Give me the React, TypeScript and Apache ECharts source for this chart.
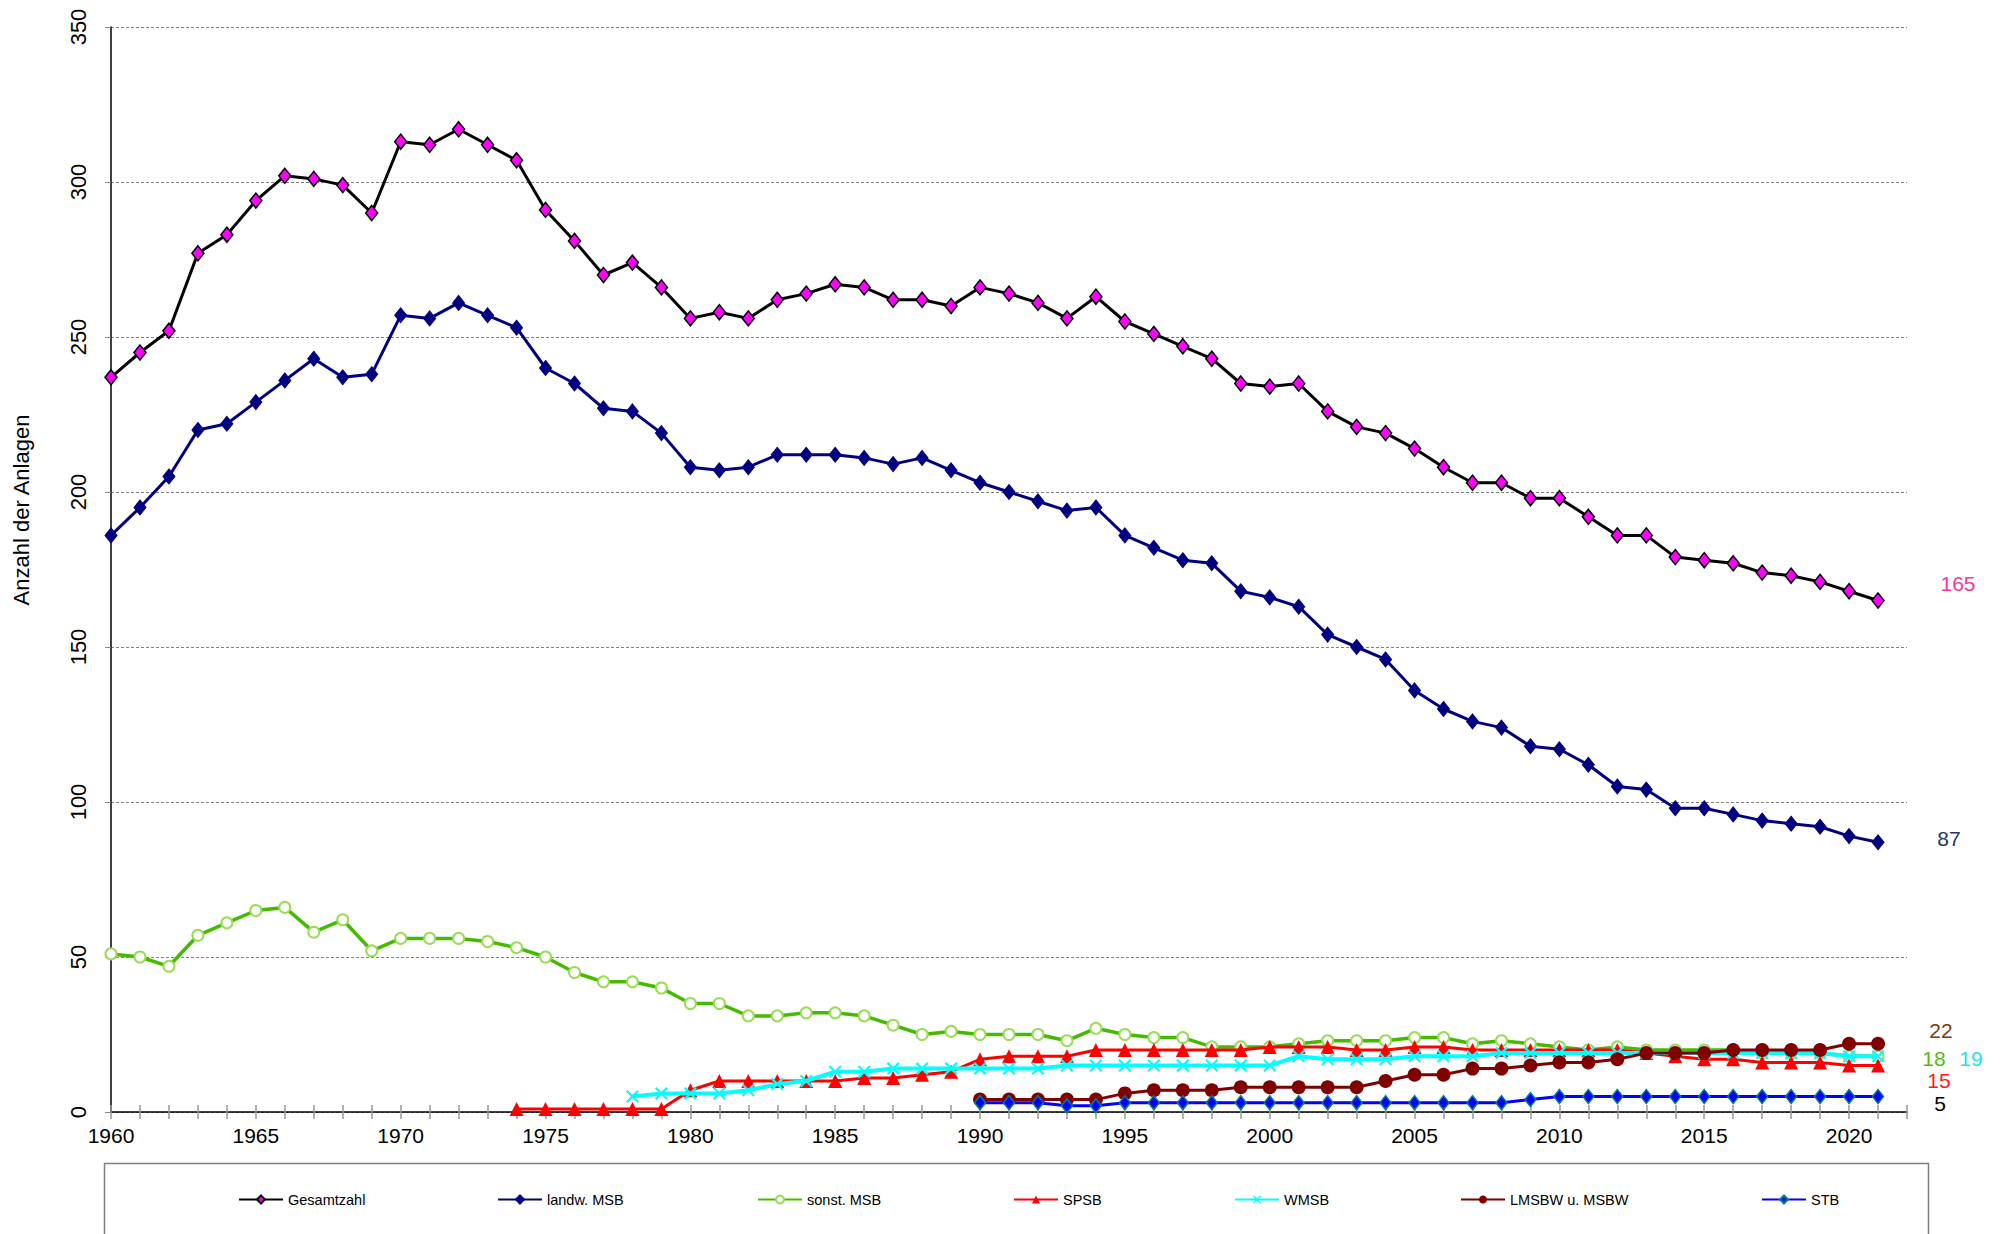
import React, { useEffect, useRef } from "react";
import * as echarts from "echarts";

const FIRST_YEAR = 1960;
const LAST_YEAR = 2022;
const years: string[] = [];
for (let y = FIRST_YEAR; y <= LAST_YEAR; y++) years.push(String(y));

const yTicks = { min: 0, max: 350, interval: 50 };

// Gesamtzahl 1960–2021
const gesamtStart = 1960;
const gesamt = [
  237, 245, 252, 277, 283, 294, 302, 301, 299, 290,
  313, 312, 317, 312, 307, 291, 281, 270, 274, 266,
  256, 258, 256, 262, 264, 267, 266, 262, 262, 260,
  266, 264, 261, 256, 263, 255, 251, 247, 243, 235,
  234, 235, 226, 221, 219, 214, 208, 203, 203, 198,
  198, 192, 186, 186, 179, 178, 177, 174, 173, 171,
  168, 165,
];
const landwStart = 1960;
const landw = [
  186, 195, 205, 220, 222, 229, 236, 243, 237, 238,
  257, 256, 261, 257, 253, 240, 235, 227, 226, 219,
  208, 207, 208, 212, 212, 212, 211, 209, 211, 207,
  203, 200, 197, 194, 195, 186, 182, 178, 177, 168,
  166, 163, 154, 150, 146, 136, 130, 126, 124, 118,
  117, 112, 105, 104, 98, 98, 96, 94, 93, 92,
  89, 87,
];
const sonstStart = 1960;
const sonst = [
  51, 50, 47, 57, 61, 65, 66, 58, 62, 52,
  56, 56, 56, 55, 53, 50, 45, 42, 42, 40,
  35, 35, 31, 31, 32, 32, 31, 28, 25, 26,
  25, 25, 25, 23, 27, 25, 24, 24, 21, 21,
  21, 22, 23, 23, 23, 24, 24, 22, 23, 22,
  21, 20, 21, 20, 20, 20, 20, 19, 19, 19,
  18, 18,
];
const spsbStart = 1974;
const spsb = [
  1, 1, 1, 1, 1, 1,
  7, 10, 10, 10, 10, 10, 11, 11, 12, 13,
  17, 18, 18, 18, 20, 20, 20, 20, 20, 20,
  21, 21, 21, 20, 20, 21, 21, 20, 20, 20,
  20, 20, 20, 19, 18, 17, 17, 16, 16, 16,
  15, 15,
];
const wmsbStart = 1978;
const wmsb = [
  5, 6,
  6, 6, 7, 9, 10, 13, 13, 14, 14, 14,
  14, 14, 14, 15, 15, 15, 15, 15, 15, 15,
  15, 18, 17, 17, 17, 18, 18, 18, 19, 19,
  19, 19, 19, 19, 19, 19, 19, 19, 19, 19,
  18, 18,
];
const lmsbwStart = 1990;
const lmsbw = [
  4, 4, 4, 4, 4, 6, 7, 7, 7, 8,
  8, 8, 8, 8, 10, 12, 12, 14, 14, 15,
  16, 16, 17, 19, 19, 19, 20, 20, 20, 20,
  22, 22,
];
const stbStart = 1990;
const stb = [
  3, 3, 3, 2, 2, 3, 3, 3, 3, 3,
  3, 3, 3, 3, 3, 3, 3, 3, 3, 4,
  5, 5, 5, 5, 5, 5, 5, 5, 5, 5,
  5, 5,
];

const seriesNames = [
  "Gesamtzahl",
  "landw. MSB",
  "sonst. MSB",
  "SPSB",
  "WMSB",
  "LMSBW u. MSBW",
  "STB",
];

const endLabels = [
  { text: "165", color: "#FF3399" },
  { text: "87", color: "#1F3864" },
  { text: "22", color: "#7A3A10" },
  { text: "18", color: "#55BB11" },
  { text: "19", color: "#22E5E5" },
  { text: "15", color: "#FF1A1A" },
  { text: "5", color: "#000000" },
];

function pad(start: number, values: number[]): (number | null)[] {
  return years.map((y) => {
    const i = Number(y) - start;
    return i >= 0 && i < values.length ? values[i] : null;
  });
}

const FONT = "'Liberation Sans', Arial, sans-serif";
const X_SYMBOL =
  "path://M0,1.2 L1.2,0 L5,3.8 L8.8,0 L10,1.2 L6.2,5 L10,8.8 L8.8,10 L5,6.2 L1.2,10 L0,8.8 L3.8,5 Z";

export default function App() {
  const ref = useRef<HTMLDivElement>(null);

  useEffect(() => {
    document.body.style.margin = "0";
    if (!ref.current) return;
    const chart = echarts.init(ref.current, undefined, { renderer: "svg" });

    const mk = (
      name: string,
      data: (number | null)[],
      lineColor: string,
      width: number,
      symbol: string,
      symbolSize: number | number[],
      itemStyle: any,
      z: number
    ) => ({
      name,
      type: "line",
      data,
      z,
      symbol,
      symbolSize,
      showAllSymbol: true,
      connectNulls: false,
      lineStyle: { color: lineColor, width },
      itemStyle: { opacity: 1, ...itemStyle },
      emphasis: { disabled: true },
    });

    const series = [
      mk(seriesNames[0], pad(gesamtStart, gesamt), "#000000", 3, "diamond", [12, 15],
        { color: "#FF00FF", borderColor: "#000000", borderWidth: 1.5 }, 2),
      mk(seriesNames[1], pad(landwStart, landw), "#000080", 3, "diamond", [12, 15],
        { color: "#000080", borderColor: "#000080", borderWidth: 1 }, 3),
      mk(seriesNames[2], pad(sonstStart, sonst), "#44BB00", 3.5, "circle", 11,
        { color: "#FFFFFF", borderColor: "#99DD55", borderWidth: 2 }, 4),
      mk(seriesNames[3], pad(spsbStart, spsb), "#FF0000", 3, "triangle", 14,
        { color: "#FF0000" }, 5),
      mk(seriesNames[4], pad(wmsbStart, wmsb), "#00FFFF", 4, X_SYMBOL, 13,
        { color: "#00FFFF" }, 6),
      mk(seriesNames[5], pad(lmsbwStart, lmsbw), "#800000", 3, "circle", 14,
        { color: "#800000" }, 7),
      mk(seriesNames[6], pad(stbStart, stb), "#0000FF", 3, "diamond", [11, 14],
        { color: "#0000FF", borderColor: "#008080", borderWidth: 1.5 }, 8),
    ];

    const legendLefts = [238, 497, 757, 1013, 1234, 1460, 1761];
    const legends = seriesNames.map((n, i) => ({
      data: [n],
      left: legendLefts[i],
      top: 1192,
      padding: 0,
      itemWidth: 44,
      itemHeight: 10,
      itemGap: 0,
      selectedMode: false,
      textStyle: { fontFamily: FONT, fontSize: 14.5, color: "#000" },
    }));

    const labelPos = [
      [1958, 583],
      [1949, 838],
      [1941, 1030],
      [1934, 1058],
      [1971, 1058],
      [1939, 1080],
      [1940, 1103],
    ];

    const graphic: any[] = [
      {
        type: "rect",
        shape: { x: 104.5, y: 1163.5, width: 1824, height: 100 },
        style: { fill: "none", stroke: "#7F7F7F", lineWidth: 1.5 },
        silent: true,
      },
      {
        type: "text",
        x: 21,
        y: 510,
        rotation: Math.PI / 2,
        style: {
          text: "Anzahl der Anlagen",
          fill: "#000",
          fontFamily: FONT,
          fontSize: 22,
          textAlign: "center",
          textVerticalAlign: "middle",
        },
        silent: true,
      },
      ...endLabels.map((l, i) => ({
        type: "text",
        x: labelPos[i][0],
        y: labelPos[i][1],
        style: {
          text: l.text,
          fill: l.color,
          fontFamily: FONT,
          fontSize: 21,
          textAlign: "center",
          textVerticalAlign: "middle",
        },
        silent: true,
      })),
    ];

    const option: any = {
      animation: false,
      backgroundColor: "#FFFFFF",
      grid: { left: 111, top: 27, right: 97, bottom: 122, containLabel: false },
      legend: legends,
      xAxis: [
        {
          type: "category",
          data: years,
          boundaryGap: false,
          axisLine: { show: true, lineStyle: { color: "#000", width: 1.5 } },
          axisTick: {
            show: true,
            interval: 0,
            length: 7,
            lineStyle: { color: "#999999", width: 1.5 },
          },
          axisLabel: {
            interval: 4,
            margin: 13,
            color: "#000",
            fontFamily: FONT,
            fontSize: 21,
          },
          splitLine: { show: false },
        },
        {
          type: "category",
          data: years,
          boundaryGap: false,
          position: "bottom",
          axisLine: { show: false },
          axisTick: {
            show: true,
            inside: true,
            interval: 0,
            length: 7,
            lineStyle: { color: "#999999", width: 1.5 },
          },
          axisLabel: { show: false },
          splitLine: { show: false },
        },
      ],
      yAxis: {
        type: "value",
        min: yTicks.min,
        max: yTicks.max,
        interval: yTicks.interval,
        axisLine: { show: true, lineStyle: { color: "#000", width: 1.5 } },
        axisTick: { show: true, length: 6, lineStyle: { color: "#888" } },
        axisLabel: {
          rotate: 90,
          margin: 22,
          color: "#000",
          fontFamily: FONT,
          fontSize: 22,
        },
        splitLine: {
          show: true,
          lineStyle: { color: "#808080", width: 1, type: [3, 2] },
        },
      },
      series,
      graphic,
    };

    chart.setOption(option);
    return () => chart.dispose();
  }, []);

  return <div ref={ref} style={{ width: 2004, height: 1234 }} />;
}
